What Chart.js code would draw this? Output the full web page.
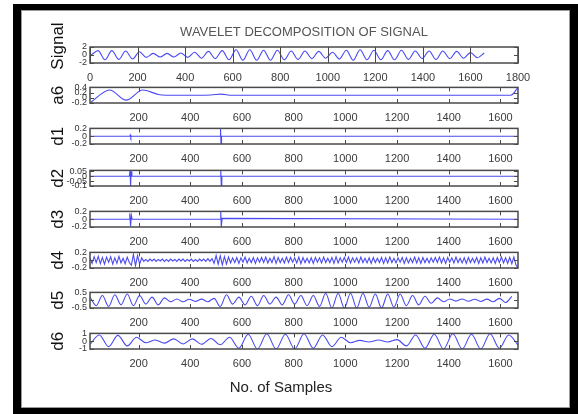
<!DOCTYPE html>
<html>
<head>
<meta charset="utf-8">
<script src="https://cdn.jsdelivr.net/npm/chart.js@4.4.1/dist/chart.umd.min.js"></script>
<style>
body { margin: 0; background: #fff; width: 578px; height: 414px; overflow: hidden; position: relative; }
#frame { position: absolute; left: 13px; top: 4px; width: 549px; height: 398px; border-style: solid; border-color: #000; border-width: 6px 8px 6px 8px; box-shadow: inset 0 0 0 1px #999; }
canvas { position: absolute; }
</style>
</head>
<body>
<div id="frame"></div>
<script>
/* values */
const sigTicksX = [0, 200, 400, 600, 800, 1000, 1200, 1400, 1600, 1800]
const subTicksX = [200, 400, 600, 800, 1000, 1200, 1400, 1600]

// original signal, one value every sigStep samples (peaks and troughs)
const sigStart = 5, sigStep = 29
const sigVals = [0, 1.1, -1.2, 1.1, -1.1, 1.0, -1.0, 0.8, -0.6, 0.4,
  -0.5, 0.4, -0.5, 0.5, -0.6, 0.7, -0.8, 0.9, -0.9, 1.1,
  -1.2, 1.3, -1.3, 1.3, -1.3, 1.2, -1.3, 1.2, -1.2, 1.0,
  -1.1, 1.0, -0.9, 0.9, -0.8, 0.7, -1.0, 1.2, -1.3, 1.3,
  -1.2, 1.2, -1.2, 1.1, -1.2, 1.2, -1.1, 1.0, -0.9, 1.0,
  -1.1, 1.0, -0.9, 0.9, -0.8, 0.6, -0.7, 0.5]
const sigTicksY = [-2, 0, 2]

// approximation a6
const a6X = [12, 88, 152, 216, 281, 340, 420, 480, 520, 560, 620, 800, 1000, 1200, 1400, 1600, 1640, 1668]
const a6Y = [-0.2, 0.3, -0.09, 0.3, 0.12, 0.1, 0.1, 0.11, 0.14, 0.1, 0.1, 0.1, 0.1, 0.1, 0.1, 0.1, 0.1, 0.4]
const a6TicksY = [-0.2, 0, 0.2, 0.4]

// details d1..d3 (flat with two bursts)
const d1X = [12, 166, 168, 170, 172, 515, 517, 519, 521, 1668]
const d1Y = [0, 0, 0.03, -0.03, 0, 0, 0.2, -0.2, 0, 0]
const d1TicksY = [-0.2, 0, 0.2]

const d2X = [12, 164, 167, 169, 171, 174, 516, 518, 520, 522, 1668]
const d2Y = [0, 0, 0.06, -0.1, 0.05, 0, 0, 0.06, -0.1, 0, 0]
const d2TicksY = [-0.1, -0.05, 0, 0.05]

const d3X = [12, 163, 166, 169, 172, 175, 515, 518, 520, 523, 1668]
const d3Y = [0, 0, 0.15, -0.18, 0.1, 0, 0, 0.2, -0.2, 0.02, 0]
const d3TicksY = [-0.2, 0, 0.2]

// d4, one value every d4Step samples
const d4Start = 12, d4Step = 8
const d4Vals = [0.05, -0.08, 0.09, -0.06, 0.1, -0.09, 0.07, -0.1, 0.08, -0.05, 0.09, -0.1, 0.06, -0.08, 0.1, -0.07, 0.05, -0.09, 0.08, -0.06,
  -0.13, 0.15, -0.14, 0.12, -0.1, 0.06,
  -0.03, 0.02, -0.03, 0.03, -0.02, 0.03, -0.03, 0.02, -0.02, 0.03, -0.03, 0.02, -0.03, 0.03, -0.02, 0.02, -0.03,
  0.03, -0.02, 0.03, -0.03, 0.02, -0.02, 0.03, -0.03, 0.02, -0.03, 0.03, -0.02, 0.03, -0.03, 0.04, -0.03, 0.04,
  -0.08, 0.12, -0.1, 0.11, -0.12, 0.09, -0.1, 0.08, -0.07, 0.06,
  -0.06, 0.07, -0.08, 0.06, -0.05, 0.08, -0.07, 0.05, -0.06, 0.07,
  -0.08, 0.06, -0.05, 0.07, -0.06, 0.08, -0.07, 0.05, -0.06, 0.09,
  -0.08, 0.07, -0.06, 0.05, -0.07, 0.08, -0.06, 0.07, -0.05, 0.06,
  -0.07, 0.08, -0.09, 0.07, -0.06, 0.05, -0.07, 0.06, -0.08, 0.07,
  -0.05, 0.06, -0.07, 0.08, -0.06, 0.05, -0.06, 0.07, -0.08, 0.09,
  -0.07, 0.06, -0.05, 0.07, -0.06, 0.08, -0.07, 0.06, -0.05, 0.06,
  -0.07, 0.08, -0.06, 0.05, -0.07, 0.06, -0.08, 0.07, -0.06, 0.05,
  -0.06, 0.07, -0.08, 0.06, -0.07, 0.08, -0.06, 0.05, -0.07, 0.06,
  -0.05, 0.07, -0.08, 0.06, -0.07, 0.05, -0.06, 0.08, -0.07, 0.06,
  -0.08, 0.07, -0.06, 0.05, -0.07, 0.06, -0.05, 0.07, -0.06, 0.08,
  -0.07, 0.06, -0.08, 0.07, -0.05, 0.06, -0.07, 0.08, -0.06, 0.05,
  -0.07, 0.06, -0.08, 0.07, -0.06, 0.05, -0.06, 0.07, -0.08, 0.06,
  -0.07, 0.08, -0.06, 0.05, -0.07, 0.06, -0.08, 0.07, -0.06, 0.08,
  -0.07, 0.06, -0.08, 0.07, -0.09, 0.08, -0.12, -0.2]
const d4TicksY = [-0.2, 0, 0.2]

const d5Start = 12, d5Step = 24
const d5Vals = [0.2, -0.35, 0.3, -0.4, 0.35, -0.3, 0.4, -0.35,
  0.3, -0.25, 0.2, -0.3, 0.15,
  -0.1, 0.08, -0.1, 0.06, -0.08, 0.07, -0.1, 0.12,
  -0.4, 0.35, -0.25, 0.2,
  -0.3, 0.25, -0.35, 0.3, -0.25, 0.2, -0.3, 0.35, -0.25, 0.3, -0.35, 0.3, -0.4,
  0.45, -0.5, 0.45, -0.5, 0.45, -0.5, 0.45, -0.45, 0.4, -0.5, 0.4,
  -0.45, 0.4, -0.35, 0.3, -0.3, 0.25, -0.2, 0.15,
  -0.1, 0.08, -0.06, 0.08, -0.07, 0.06, -0.08, 0.07,
  -0.1, 0.12, -0.15, 0.25]
const d5TicksY = [-0.5, 0, 0.5]

const d6Start = 12, d6Step = 36
const d6Vals = [-0.4, 0.8, -0.7, 0.75, -0.6, 0.5, -0.2,
  0.15, -0.25, 0.3, -0.35, 0.3, -0.4, 0.35, -0.45, 0.5,
  -0.9, 0.9, -1, 0.95, -1, 0.9, -1, 0.95, -0.9, 0.8, -0.7, 0.5,
  -0.2, 0.1, -0.1, 0.15, -0.1, 0.2,
  -0.6, 0.8, -0.9, 0.9, -1, 0.95, -1, 0.9, -1, 0.95, -0.9, 0.8, -0.5]
const d6TicksY = [-1, 0, 1]

/* helpers */
function seq(start, step, vals) {
    return vals.map((v, i) => ({ x: start + i * step, y: v }))
}
function pairs(xs, ys) {
    return xs.map((x, i) => ({ x: x, y: ys[i] }))
}

const lineBlue = '#4a4af2'
const narrow = "'Liberation Sans Narrow','Liberation Sans',Arial,sans-serif"
const sans = "'Liberation Sans',Arial,sans-serif"

// panel boxes (page y of the axes box)
const panels = [
    { name: 'Signal', data: seq(sigStart, sigStep, sigVals), yMin: -2, yMax: 2, yTicks: sigTicksY, xMin: 0, xMax: 1800, xTicks: sigTicksX, top: 47, bottom: 63, smooth: true, tick: 8 },
    { name: 'a6', data: pairs(a6X, a6Y), yMin: -0.2, yMax: 0.4, yTicks: a6TicksY, top: 87, bottom: 103, smooth: true },
    { name: 'd1', data: pairs(d1X, d1Y), yMin: -0.2, yMax: 0.2, yTicks: d1TicksY, top: 128, bottom: 144 },
    { name: 'd2', data: pairs(d2X, d2Y), yMin: -0.1, yMax: 0.06, yTicks: d2TicksY, top: 170, bottom: 186 },
    { name: 'd3', data: pairs(d3X, d3Y), yMin: -0.2, yMax: 0.2, yTicks: d3TicksY, top: 211, bottom: 227 },
    { name: 'd4', data: seq(d4Start, d4Step, d4Vals), yMin: -0.2, yMax: 0.2, yTicks: d4TicksY, top: 252, bottom: 268 },
    { name: 'd5', data: seq(d5Start, d5Step, d5Vals), yMin: -0.5, yMax: 0.5, yTicks: d5TicksY, top: 292, bottom: 308, smooth: true },
    { name: 'd6', data: seq(d6Start, d6Step, d6Vals), yMin: -1, yMax: 1, yTicks: d6TicksY, top: 333, bottom: 349, smooth: true }
]

// matlab style box with inward ticks
const boxPlugin = {
    id: 'matBox',
    afterDatasetsDraw(chart, args, opts) {
        const { ctx, chartArea: a, scales } = chart
        const len = opts.len || 4
        ctx.save()
        ctx.strokeStyle = '#4a4a4a'
        ctx.lineWidth = 1.5
        ctx.strokeRect(a.left, a.top, a.right - a.left, a.bottom - a.top)
        ctx.lineWidth = 1
        ctx.beginPath()
        scales.x.ticks.forEach(t => {
            const px = Math.round(scales.x.getPixelForValue(t.value)) + 0.5
            ctx.moveTo(px, a.bottom); ctx.lineTo(px, a.bottom - len)
            ctx.moveTo(px, a.top); ctx.lineTo(px, a.top + len)
        })
        scales.y.ticks.forEach(t => {
            const py = Math.round(scales.y.getPixelForValue(t.value)) + 0.5
            ctx.moveTo(a.left, py); ctx.lineTo(a.left + 4, py)
            ctx.moveTo(a.right, py); ctx.lineTo(a.right - 4, py)
        })
        ctx.stroke()
        ctx.restore()
    }
}

panels.forEach((p, k) => {
    const first = k === 0
    const last = k === panels.length - 1
    const padT = 2
    const topAxisH = first ? 36 : 6
    const titleH = last ? 31 : 0
    const boxH = p.bottom - p.top
    const h = padT + topAxisH + boxH + 18 + titleH + 2

    const cv = document.createElement('canvas')
    cv.width = 546
    cv.height = h
    cv.style.left = '22px'
    cv.style.top = (p.top - padT - topAxisH) + 'px'
    document.body.appendChild(cv)

    const xTicks = p.xTicks || subTicksX
    const scales = {
        x: {
            type: 'linear',
            min: p.xMin !== undefined ? p.xMin : 12,
            max: p.xMax || 1668,
            afterBuildTicks: s => { s.ticks = xTicks.map(v => ({ value: v })) },
            afterFit: s => { s.height = 18 },
            grid: { display: false, drawTicks: false },
            border: { display: false },
            ticks: { padding: 8, autoSkip: false, maxRotation: 0, color: '#3a3a3a', font: { family: narrow, size: 11 }, callback: v => String(v) }
        },
        y: {
            min: p.yMin,
            max: p.yMax,
            afterBuildTicks: s => { s.ticks = p.yTicks.map(v => ({ value: v })) },
            afterFit: s => { s.width = first ? 23 : 46 },
            grid: { display: false, drawTicks: false },
            border: { display: false },
            ticks: { padding: 3, autoSkip: false, color: '#333', font: { family: narrow, size: 9 }, callback: v => String(v) },
            title: { display: !first, text: p.name, color: '#111', font: { family: sans, size: 17, lineHeight: 1 }, padding: { top: 6, bottom: 0 } }
        },
        // top strip: carries the figure title on the first panel, empty spacer elsewhere
        x2: {
            type: 'linear', position: 'top', min: 0, max: 1,
            afterFit: s => { s.height = topAxisH },
            grid: { display: false, drawTicks: false },
            border: { display: false },
            ticks: { display: false },
            title: { display: first, text: 'WAVELET DECOMPOSITION OF SIGNAL', color: '#555', font: { family: sans, size: 13, lineHeight: 1 }, padding: { top: 14.5, bottom: 0 } }
        }
    }

    let title = { display: false }
    if (first) {
        title = { display: true, text: 'Signal', position: 'left', color: '#111', font: { family: sans, size: 17, weight: 'normal', lineHeight: 1 }, padding: { top: 6, bottom: 0 } }
    } else if (last) {
        title = { display: true, text: 'No. of Samples', position: 'bottom', color: '#222', font: { family: sans, size: 15, weight: 'normal', lineHeight: 1 }, padding: { top: 13.5, bottom: 2.5 } }
    }

    new Chart(cv, {
        type: 'line',
        data: {
            datasets: [{
                data: p.data,
                borderColor: lineBlue,
                borderWidth: 1.1,
                pointRadius: 0,
                fill: false,
                tension: 0,
                cubicInterpolationMode: p.smooth ? 'monotone' : 'default'
            }]
        },
        options: {
            responsive: false,
            animation: false,
            events: [],
            layout: { padding: { left: 22, right: 50, top: padT, bottom: 2 } },
            scales: scales,
            plugins: {
                legend: { display: false },
                tooltip: { enabled: false },
                title: title,
                matBox: { len: p.tick || 4 }
            }
        },
        plugins: [boxPlugin]
    })
})
</script>
</body>
</html>
